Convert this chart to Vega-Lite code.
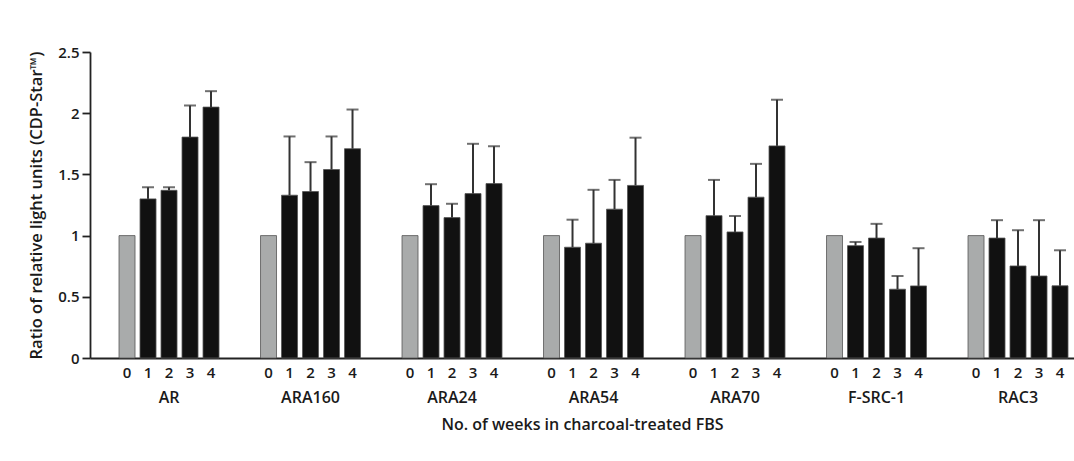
{
  "$schema": "https://vega.github.io/schema/vega-lite/v6.json",
  "width": 984,
  "height": 306,
  "autosize": {"type": "none"},
  "padding": {"left": 90, "top": 52, "right": 0, "bottom": 103},
  "background": "white",
  "config": {
    "view": {"stroke": null},
    "font": "Open Sans",
    "axis": {"labelFont": "Open Sans", "titleFont": "Open Sans", "labelColor": "#1a1a1a", "titleColor": "#1a1a1a"}
  },
  "data": {
    "values": [
      {"g": "AR", "w": 0, "v": 1, "hi": null},
      {"g": "AR", "w": 1, "v": 1.30, "hi": 1.395},
      {"g": "AR", "w": 2, "v": 1.37, "hi": 1.395},
      {"g": "AR", "w": 3, "v": 1.805, "hi": 2.063},
      {"g": "AR", "w": 4, "v": 2.05, "hi": 2.18},
      {"g": "ARA160", "w": 0, "v": 1, "hi": null},
      {"g": "ARA160", "w": 1, "v": 1.33, "hi": 1.81},
      {"g": "ARA160", "w": 2, "v": 1.36, "hi": 1.60},
      {"g": "ARA160", "w": 3, "v": 1.54, "hi": 1.81},
      {"g": "ARA160", "w": 4, "v": 1.71, "hi": 2.03},
      {"g": "ARA24", "w": 0, "v": 1, "hi": null},
      {"g": "ARA24", "w": 1, "v": 1.245, "hi": 1.42},
      {"g": "ARA24", "w": 2, "v": 1.147, "hi": 1.26},
      {"g": "ARA24", "w": 3, "v": 1.343, "hi": 1.75},
      {"g": "ARA24", "w": 4, "v": 1.425, "hi": 1.73},
      {"g": "ARA54", "w": 0, "v": 1, "hi": null},
      {"g": "ARA54", "w": 1, "v": 0.905, "hi": 1.13},
      {"g": "ARA54", "w": 2, "v": 0.938, "hi": 1.374},
      {"g": "ARA54", "w": 3, "v": 1.216, "hi": 1.455},
      {"g": "ARA54", "w": 4, "v": 1.41, "hi": 1.80},
      {"g": "ARA70", "w": 0, "v": 1, "hi": null},
      {"g": "ARA70", "w": 1, "v": 1.163, "hi": 1.455},
      {"g": "ARA70", "w": 2, "v": 1.03, "hi": 1.16},
      {"g": "ARA70", "w": 3, "v": 1.314, "hi": 1.586},
      {"g": "ARA70", "w": 4, "v": 1.733, "hi": 2.11},
      {"g": "F-SRC-1", "w": 0, "v": 1, "hi": null},
      {"g": "F-SRC-1", "w": 1, "v": 0.918, "hi": 0.948},
      {"g": "F-SRC-1", "w": 2, "v": 0.98, "hi": 1.096},
      {"g": "F-SRC-1", "w": 3, "v": 0.562, "hi": 0.67},
      {"g": "F-SRC-1", "w": 4, "v": 0.589, "hi": 0.897},
      {"g": "RAC3", "w": 0, "v": 1, "hi": null},
      {"g": "RAC3", "w": 1, "v": 0.98, "hi": 1.126},
      {"g": "RAC3", "w": 2, "v": 0.752, "hi": 1.044},
      {"g": "RAC3", "w": 3, "v": 0.67, "hi": 1.126},
      {"g": "RAC3", "w": 4, "v": 0.59, "hi": 0.88}
    ]
  },
  "encoding": {
    "x": {
      "field": "g",
      "type": "nominal",
      "sort": null,
      "scale": {"paddingInner": 0.2933, "paddingOuter": 0.1237, "align": 0.829},
      "axis": {
        "title": "No. of weeks in charcoal-treated FBS",
        "labelAngle": 0,
        "ticks": false,
        "tickSize": 0,
        "labelPadding": 31,
        "labelFontSize": 16,
        "labelFontWeight": 600,
        "titleFontSize": 16,
        "titleFontWeight": 600,
        "titlePadding": 11,
        "domainColor": "#222",
        "domainWidth": 1.8
      }
    },
    "xOffset": {
      "field": "w",
      "type": "ordinal",
      "scale": {"paddingInner": 0.238, "paddingOuter": 0}
    }
  },
  "layer": [
    {
      "mark": {"type": "bar", "stroke": "#555", "strokeWidth": 0.8},
      "encoding": {
        "y": {
          "field": "v",
          "type": "quantitative",
          "scale": {"domain": [0, 2.5], "nice": false},
          "axis": {
            "title": "Ratio of relative light units (CDP-Star™)",
            "values": [0, 0.5, 1, 1.5, 2, 2.5],
            "format": ".1~f",
            "grid": false,
            "tickSize": 8,
            "tickColor": "#222",
            "tickWidth": 1.8,
            "domainColor": "#222",
            "domainWidth": 1.8,
            "labelFontSize": 15,
            "labelFontWeight": 600,
            "labelPadding": 3,
            "titleFontSize": 16.5,
            "titleFontWeight": 600,
            "titlePadding": 13
          }
        },
        "color": {
          "condition": {"test": "datum.w == 0", "value": "#a9abab"},
          "value": "#111111"
        }
      }
    },
    {
      "transform": [{"filter": "datum.hi != null"}],
      "mark": {"type": "rule", "strokeWidth": 2, "color": "#333"},
      "encoding": {
        "y": {"field": "v", "type": "quantitative"},
        "y2": {"field": "hi"}
      }
    },
    {
      "transform": [{"filter": "datum.hi != null"}],
      "mark": {"type": "tick", "thickness": 2, "size": 12, "color": "#333"},
      "encoding": {
        "y": {"field": "hi", "type": "quantitative"}
      }
    },
    {
      "mark": {"type": "text", "baseline": "middle", "dy": 15, "fontSize": 15, "fontWeight": 600, "color": "#1a1a1a"},
      "encoding": {
        "y": {"datum": 0, "type": "quantitative"},
        "text": {"field": "w", "type": "ordinal"}
      }
    }
  ]
}
